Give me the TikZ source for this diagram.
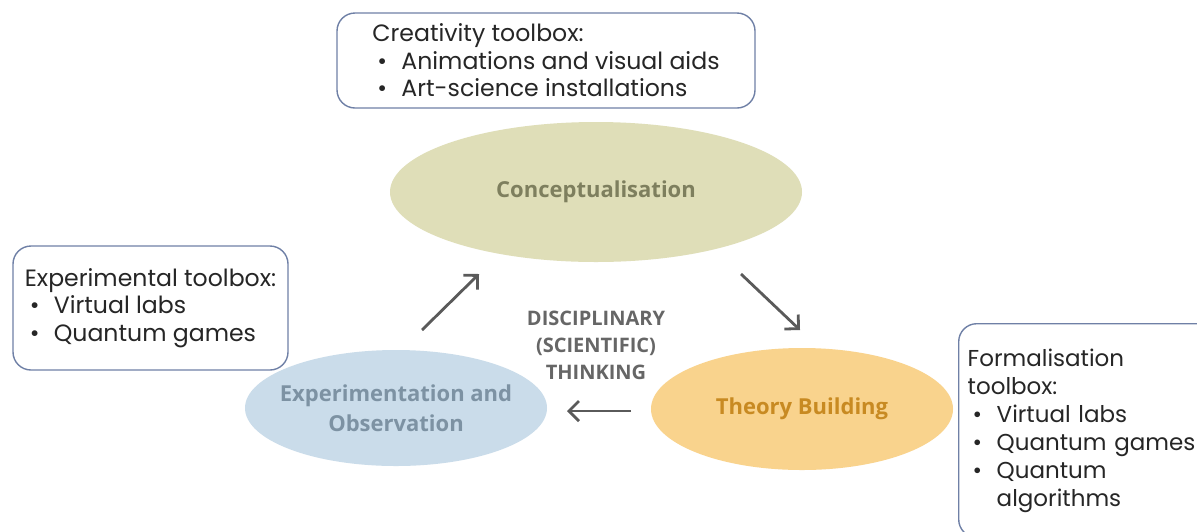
\documentclass[tikz,border=0pt]{standalone}
\usepackage{fontspec}
\setmainfont{Poppins}
\newfontfamily\ellfont{Open Sans}
\usepackage{tikz}
\usetikzlibrary{shapes.geometric,arrows.meta,positioning}
\definecolor{boxline}{HTML}{6F80A6}
\definecolor{conceptfill}{HTML}{DFDEB8}
\definecolor{concepttext}{HTML}{7E7F5E}
\definecolor{expfill}{HTML}{CADCEA}
\definecolor{exptext}{HTML}{7D92A3}
\definecolor{theoryfill}{HTML}{F9D38D}
\definecolor{theorytext}{HTML}{C88A22}
\definecolor{arrowgray}{HTML}{5A5A5A}
\definecolor{thinkgray}{HTML}{666666}
\tikzstyle{toolbox}=[draw=boxline, line width=0.7pt, rounded corners=9pt, fill=white, align=left, inner sep=0pt, font=\fontsize{11.8pt}{13.7pt}\selectfont, text=black!85]
\tikzstyle{phase}=[ellipse, inner sep=-6pt, align=center, font=\ellfont\bfseries\fontsize{11pt}{15pt}\selectfont]
\tikzstyle{cyclearrow}=[draw=arrowgray, line width=1.4pt, -{Straight Barb[length=5pt,width=10pt,line width=1.4pt]}]
\newcommand{\bulletLine}[1]{\\\hspace*{2.5pt}\makebox[12pt][l]{\textbullet}#1}

\begin{document}
\begin{tikzpicture}[x=0.5pt,y=-0.5pt]
	\useasboundingbox (0,0) rectangle (1197,531);
	\fill[white] (0,0) rectangle (1197,531);
	\node[phase, fill=conceptfill, text=concepttext, minimum width=206pt, minimum height=70pt] (concept) at (596,192) {Conceptualisation};
	\node[phase, fill=expfill, text=exptext, minimum width=151pt, minimum height=58pt] (expobs) at (396,408) {Experimentation and\\Observation};
	\node[phase, fill=theoryfill, text=theorytext, minimum width=151pt, minimum height=61pt] (theory) at (802,409) {Theory Building};
	\node[toolbox, minimum width=209pt, minimum height=47.5pt] (creabox) at (546,60.5) {Creativity toolbox:\bulletLine{Animations and visual aids}\bulletLine{Art-science installations}};
	\node[toolbox, minimum width=137.5pt, minimum height=62pt] (expbox) at (150.5,308) {Experimental toolbox:\bulletLine{Virtual labs}\bulletLine{Quantum games}};
	\node[toolbox, anchor=north west, text width=126pt, inner xsep=4.5pt, inner ysep=12.5pt, font=\fontsize{11.5pt}{14pt}\selectfont] (formbox) at (958,323) {Formalisation\\toolbox:\bulletLine{Virtual labs}\bulletLine{Quantum games}\bulletLine{Quantum\\\hspace*{14.5pt}algorithms}};
	\node[font=\ellfont\bfseries\fontsize{10pt}{13.5pt}\selectfont, text=thinkgray, align=center] (thinking) at (596,345) {DISCIPLINARY\\(SCIENTIFIC)\\THINKING};
	\coordinate (upfrom) at (422,330);
	\coordinate (upto) at (479,274);
	\coordinate (downfrom) at (741,274);
	\coordinate (downto) at (800,330);
	\coordinate (leftfrom) at (631,411);
	\coordinate (leftto) at (567,411);
	\draw[cyclearrow] (upfrom) -- (upto);
	\draw[cyclearrow] (downfrom) -- (downto);
	\draw[cyclearrow] (leftfrom) -- (leftto);
\end{tikzpicture}
\end{document}
